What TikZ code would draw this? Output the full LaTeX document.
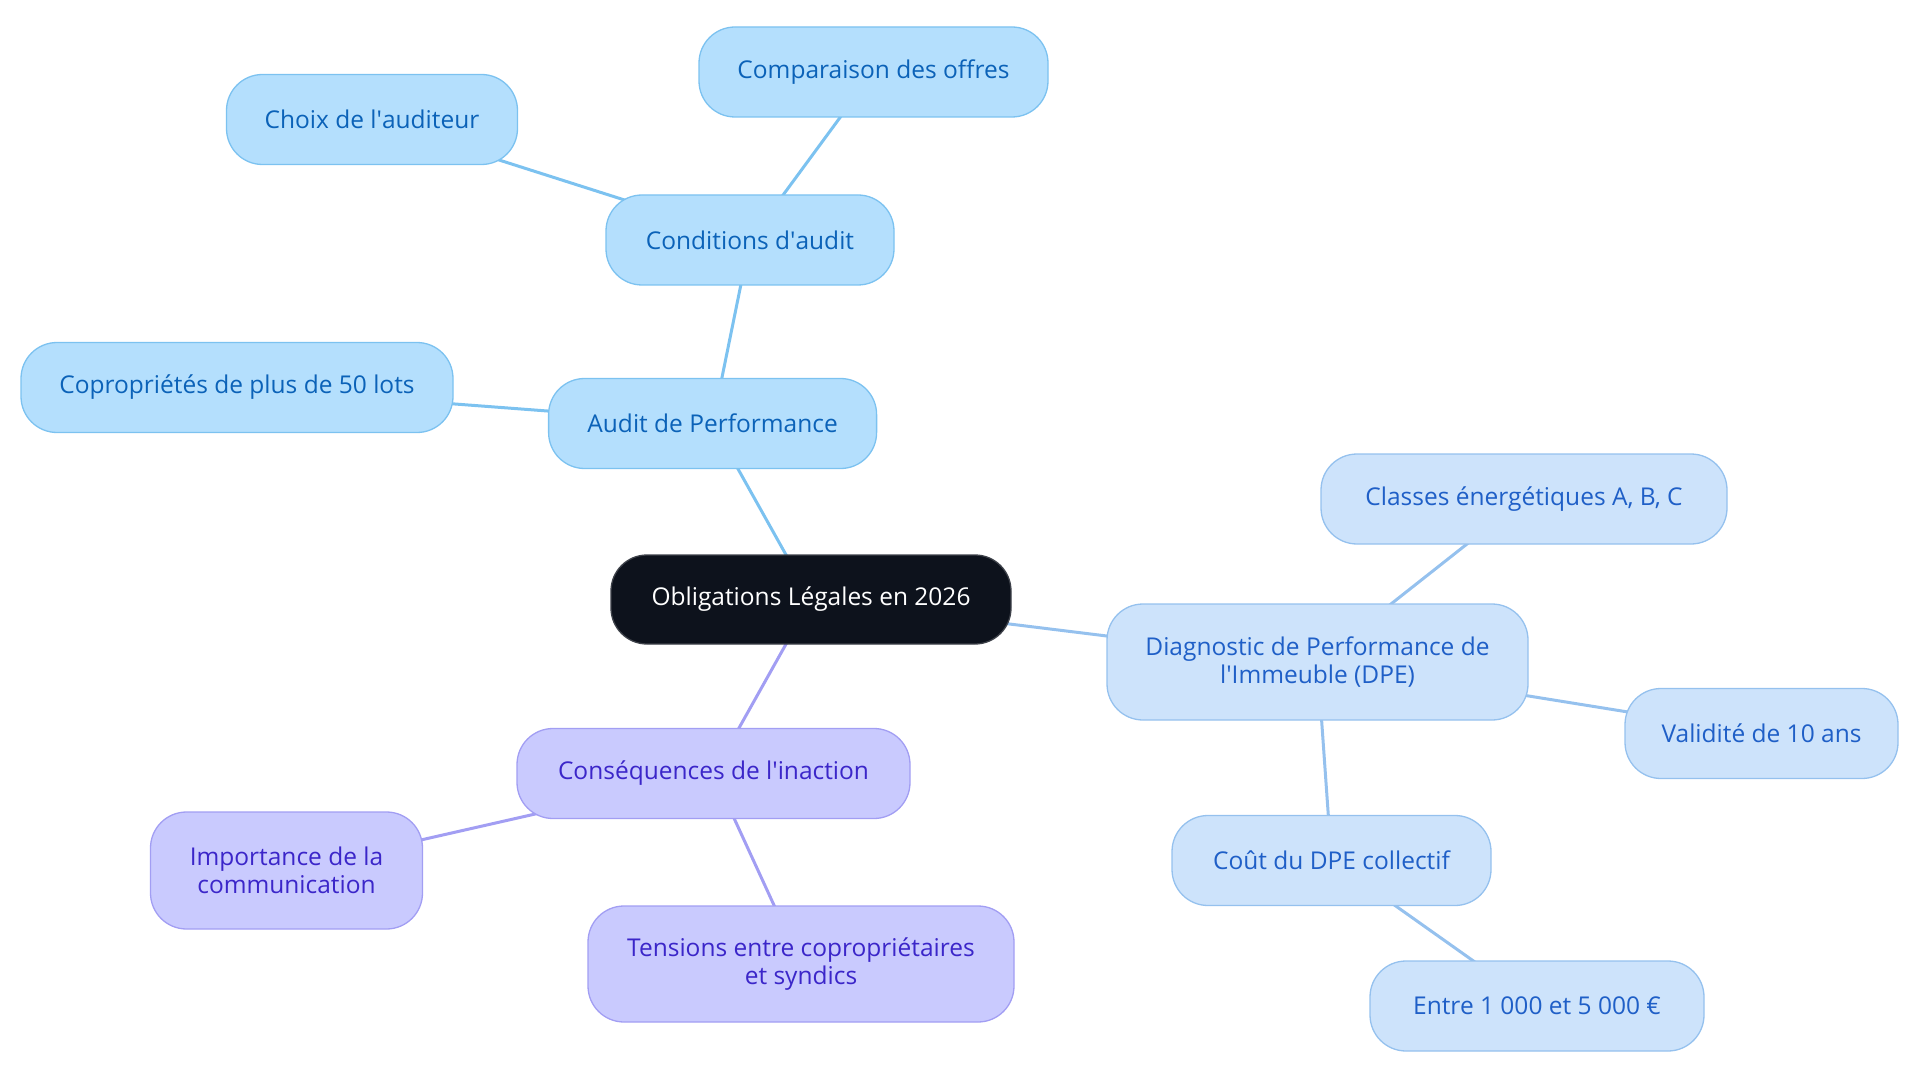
\documentclass[tikz,border=0pt]{standalone}
\usepackage{fontspec}
\setmainfont{Open Sans}
\usetikzlibrary{backgrounds}
\definecolor{rootfill}{HTML}{0D121C}
\definecolor{bfill}{HTML}{B4DFFD}
\definecolor{bdraw}{HTML}{7CC2F0}
\definecolor{btext}{HTML}{0B62B8}
\definecolor{dfill}{HTML}{CDE3FB}
\definecolor{ddraw}{HTML}{95C1EE}
\definecolor{dtext}{HTML}{1F5FC7}
\definecolor{pfill}{HTML}{C9CAFE}
\definecolor{pdraw}{HTML}{A29EF3}
\definecolor{ptext}{HTML}{3B26C9}
\newcommand{\apos}{\textquotesingle}
\tikzset{
  box/.style={rectangle, rounded corners=36pt, line width=1.3pt, align=center,
    font=\fontsize{24.5}{28}\selectfont, inner sep=0pt, minimum height=90pt},
  rootbox/.style={box, fill=rootfill, draw=rootfill!80!white, text=white},
  bluebox/.style={box, fill=bfill, draw=bdraw, text=btext},
  dpebox/.style={box, fill=dfill, draw=ddraw, text=dtext},
  purbox/.style={box, fill=pfill, draw=pdraw, text=ptext},
  bedge/.style={draw=bdraw, line width=3pt},
  dedge/.style={draw=ddraw, line width=3pt},
  pedge/.style={draw=pdraw, line width=3pt},
}
\begin{document}
\begin{tikzpicture}[x=1pt,y=-1pt]
\useasboundingbox (0,0) rectangle (1920,1083);
% nodes
\node[rootbox, minimum width=400pt, minimum height=89pt] (root) at (811,599.5) {Obligations Légales en 2026};
\node[bluebox, minimum width=328pt] (audit) at (712.6,423.5) {Audit de Performance};
\node[bluebox, minimum width=288pt] (cond) at (750,240) {Conditions d\apos audit};
\node[bluebox, minimum width=291pt] (choix) at (372,119.5) {Choix de l\apos auditeur};
\node[bluebox, minimum width=349pt] (comp) at (873.5,72) {Comparaison des offres};
\node[bluebox, minimum width=432pt] (copro) at (237,387.5) {Copropriétés de plus de 50 lots};
\node[dpebox, minimum width=421pt, minimum height=116pt] (dpe) at (1317.5,662) {Diagnostic de Performance de\\l\apos Immeuble (DPE)};
\node[dpebox, minimum width=406pt] (classes) at (1524,499) {Classes énergétiques A, B, C};
\node[dpebox, minimum width=273pt] (valid) at (1761.5,733.5) {Validité de 10 ans};
\node[dpebox, minimum width=319pt] (cout) at (1331.5,860.5) {Coût du DPE collectif};
\node[dpebox, minimum width=334pt] (entre) at (1537,1006) {Entre 1 000 et 5 000 €};
\node[purbox, minimum width=393pt] (cons) at (713.5,773.5) {Conséquences de l\apos inaction};
\node[purbox, minimum width=272pt, minimum height=117pt] (imp) at (286.5,870.5) {Importance de la\\communication};
\node[purbox, minimum width=426pt, minimum height=116pt] (tens) at (801,964) {Tensions entre copropriétaires\\et syndics};
% edges
\begin{scope}[on background layer]
\draw[bedge] (root.center) -- (audit.center);
\draw[bedge] (audit.center) -- (cond.center);
\draw[bedge] (cond.center) -- (choix.center);
\draw[bedge] (cond.center) -- (comp.center);
\draw[bedge] (audit.center) -- (copro.center);
\draw[dedge] (root.center) -- (dpe.center);
\draw[dedge] (dpe.center) -- (classes.center);
\draw[dedge] (dpe.center) -- (valid.center);
\draw[dedge] (dpe.center) -- (cout.center);
\draw[dedge] (cout.center) -- (entre.center);
\draw[pedge] (root.center) -- (cons.center);
\draw[pedge] (cons.center) -- (imp.center);
\draw[pedge] (cons.center) -- (tens.center);
\end{scope}
\end{tikzpicture}
\end{document}
